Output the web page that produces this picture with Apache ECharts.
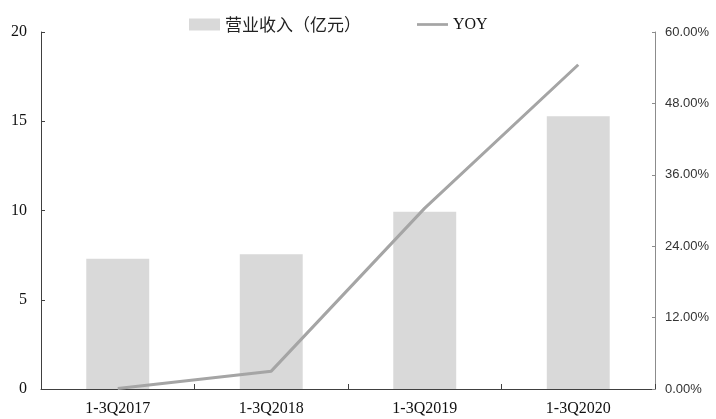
<!DOCTYPE html>
<html>
<head>
<meta charset="utf-8">
<script src="https://cdn.jsdelivr.net/npm/echarts@6/dist/echarts.min.js"></script>
<style>html,body{margin:0;padding:0;background:#fff}#c{width:716px;height:419px}</style>
</head>
<body>
<div id="c"></div>
<script>
const categories = ['1-3Q2017', '1-3Q2018', '1-3Q2019', '1-3Q2020'];
const revenue = [7.3, 7.55, 9.93, 15.28];
const yoy = [0.1, 3.0, 30.4, 54.5];
const leftTicks = [0, 5, 10, 15, 20];
const rightTicks = [0, 12, 24, 36, 48, 60];

const chart = echarts.init(document.getElementById('c'), null, {renderer: 'canvas'});
chart.setOption({
  animation: false,
  backgroundColor: '#fff',
  grid: {left: 41, right: 61, top: 32, bottom: 30, containLabel: false},
  legend: {
    left: 184, top: 11,
    itemWidth: 31, itemHeight: 12, itemGap: 56,
    textStyle: {fontFamily: '"Noto Sans CJK SC", serif', fontSize: 17, color: '#222'},
    data: [
      {name: '营业收入（亿元）', icon: 'rect'},
      {name: 'YOY', icon: 'path://M0,0 L34,0 L34,3 L0,3 Z',
       textStyle: {fontFamily: '"Liberation Serif", serif', fontSize: 16, color: '#111'}}
    ]
  },
  xAxis: {
    type: 'category', data: categories,
    axisLine: {lineStyle: {color: '#404040', width: 1}},
    axisTick: {show: true, inside: true, length: 5, lineStyle: {color: '#404040'}},
    axisLabel: {fontFamily: '"Liberation Serif", serif', fontSize: 16, color: '#111', margin: 12}
  },
  yAxis: [
    {
      type: 'value', min: leftTicks[0], max: leftTicks[leftTicks.length - 1], interval: 5,
      axisLine: {show: true, lineStyle: {color: '#404040'}},
      axisTick: {show: true, inside: true, length: 4, lineStyle: {color: '#404040'}},
      axisLabel: {fontFamily: '"Liberation Serif", serif', fontSize: 16, color: '#111', margin: 14},
      splitLine: {show: false}
    },
    {
      type: 'value', min: rightTicks[0], max: rightTicks[rightTicks.length - 1], interval: 12,
      position: 'right',
      axisLine: {show: true, lineStyle: {color: '#8c8c8c'}},
      axisTick: {show: true, inside: true, length: 3, lineStyle: {color: '#8c8c8c'}},
      axisLabel: {fontFamily: '"Liberation Sans", sans-serif', fontSize: 13, color: '#333', margin: 10,
        formatter: v => v.toFixed(2) + '%'},
      splitLine: {show: false}
    }
  ],
  series: [
    {
      name: '营业收入（亿元）', type: 'bar', data: revenue, barWidth: '41%',
      itemStyle: {color: '#d9d9d9'}
    },
    {
      name: 'YOY', type: 'line', yAxisIndex: 1, data: yoy,
      symbol: 'none', lineStyle: {color: '#a5a5a5', width: 3},
      itemStyle: {color: '#a5a5a5'}
    }
  ]
});
</script>
</body>
</html>
